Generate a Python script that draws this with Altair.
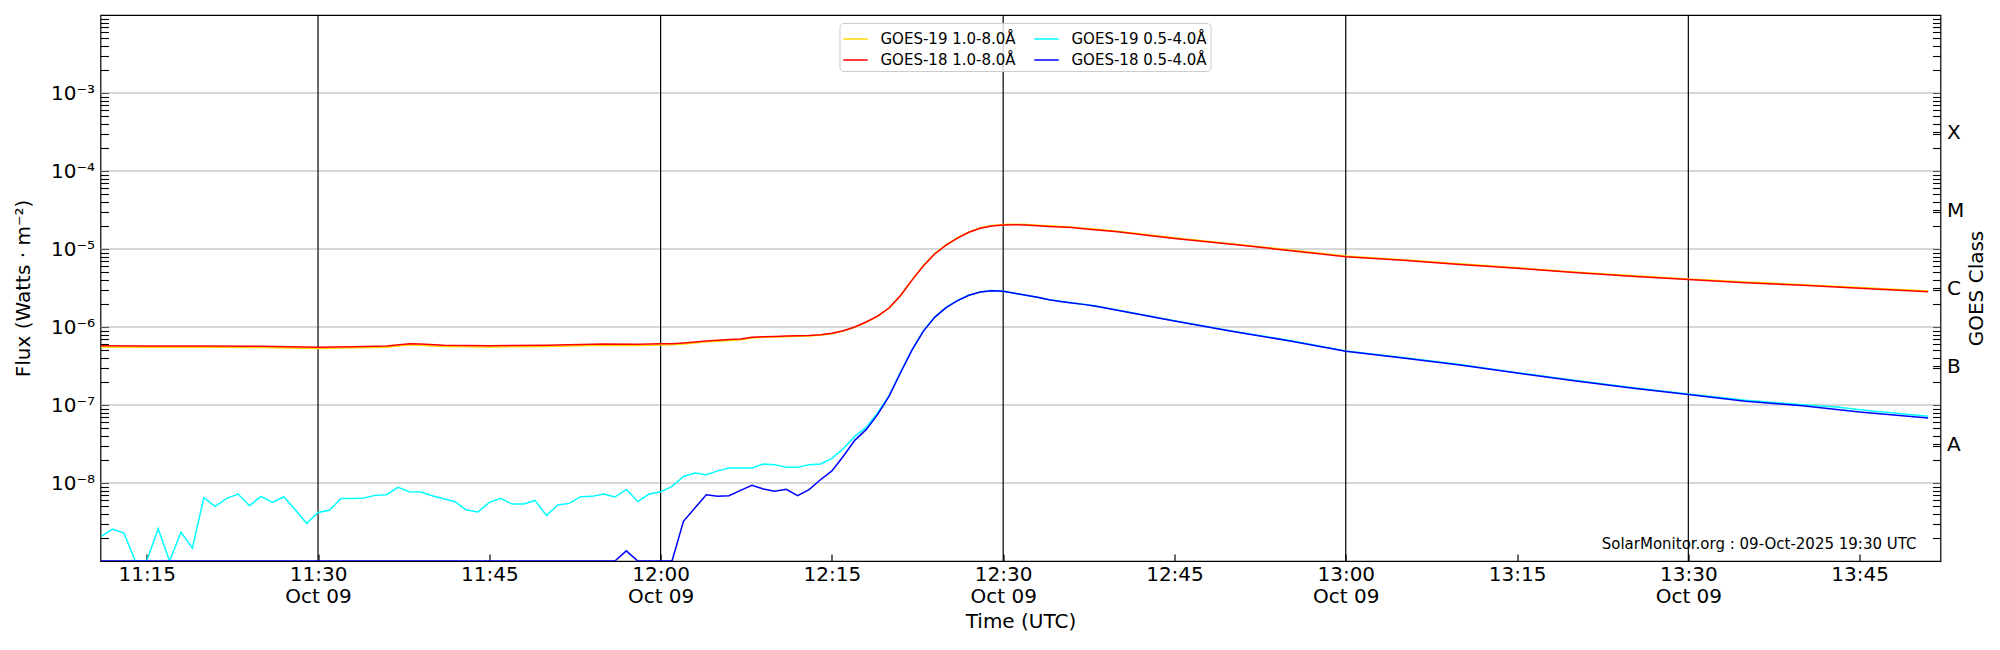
import altair as alt
import pandas as pd

DATE = "2025-10-09"

# ---------------- data ----------------
g18_long_times = ["11:11", "11:15", "11:20", "11:25", "11:30", "11:33", "11:35", "11:36", "11:38", "11:39",
                  "11:41", "11:45", "11:50", "11:55", "11:58", "12:00", "12:01", "12:02", "12:03", "12:04",
                  "12:05", "12:06", "12:07", "12:08", "12:09", "12:10", "12:11", "12:12", "12:13", "12:14",
                  "12:15", "12:16", "12:17", "12:18", "12:19", "12:20", "12:21", "12:22", "12:23", "12:24",
                  "12:25", "12:26", "12:27", "12:28", "12:29", "12:30", "12:31", "12:32", "12:33", "12:34",
                  "12:35", "12:36", "12:37", "12:38", "12:40", "12:45", "12:50", "12:55", "13:00", "13:05",
                  "13:10", "13:15", "13:20", "13:25", "13:30", "13:35", "13:40", "13:45", "13:51"]
g18_long_flux = [5.76e-7, 5.71e-7, 5.71e-7, 5.65e-7, 5.49e-7, 5.60e-7, 5.65e-7, 5.70e-7, 6.11e-7, 6.05e-7,
                 5.82e-7, 5.76e-7, 5.82e-7, 6.05e-7, 6.00e-7, 6.08e-7, 6.10e-7, 6.24e-7, 6.43e-7, 6.62e-7,
                 6.75e-7, 6.89e-7, 7.00e-7, 7.38e-7, 7.52e-7, 7.56e-7, 7.64e-7, 7.74e-7, 7.80e-7, 7.98e-7,
                 8.30e-7, 8.97e-7, 1.00e-6, 1.16e-6, 1.38e-6, 1.75e-6, 2.52e-6, 3.96e-6, 6.05e-6, 8.63e-6,
                 1.12e-5, 1.38e-5, 1.64e-5, 1.84e-5, 1.97e-5, 2.03e-5, 2.05e-5, 2.03e-5, 1.99e-5, 1.95e-5,
                 1.91e-5, 1.88e-5, 1.82e-5, 1.77e-5, 1.66e-5, 1.36e-5, 1.15e-5, 9.60e-6, 7.97e-6, 7.16e-6,
                 6.35e-6, 5.65e-6, 4.98e-6, 4.47e-6, 4.05e-6, 3.70e-6, 3.42e-6, 3.13e-6, 2.84e-6]

g19_long_times = list(g18_long_times)
g19_long_flux = [5.55e-7, 5.50e-7, 5.50e-7, 5.45e-7, 5.30e-7, 5.40e-7, 5.45e-7, 5.50e-7, 5.90e-7, 5.85e-7,
                 5.62e-7, 5.56e-7, 5.62e-7, 5.84e-7, 5.80e-7, 5.88e-7, 5.92e-7, 6.05e-7, 6.25e-7, 6.45e-7,
                 6.58e-7, 6.72e-7, 6.85e-7, 7.22e-7, 7.38e-7, 7.42e-7, 7.50e-7, 7.60e-7, 7.66e-7, 7.85e-7,
                 8.18e-7, 8.85e-7, 9.90e-7, 1.15e-6, 1.37e-6, 1.74e-6, 2.52e-6, 3.98e-6, 6.10e-6, 8.72e-6,
                 1.13e-5, 1.40e-5, 1.66e-5, 1.87e-5, 2.00e-5, 2.06e-5, 2.08e-5, 2.06e-5, 2.02e-5, 1.98e-5,
                 1.94e-5, 1.91e-5, 1.85e-5, 1.80e-5, 1.69e-5, 1.39e-5, 1.17e-5, 9.80e-6, 8.12e-6, 7.30e-6,
                 6.48e-6, 5.76e-6, 5.08e-6, 4.56e-6, 4.13e-6, 3.78e-6, 3.49e-6, 3.20e-6, 2.90e-6]

g19_short_times = ["11:11", "11:12", "11:13", "11:14", "11:15", "11:16", "11:17", "11:18", "11:19", "11:20",
                   "11:21", "11:22", "11:23", "11:24", "11:25", "11:26", "11:27", "11:28", "11:29", "11:30",
                   "11:31", "11:32", "11:33", "11:34", "11:35", "11:36", "11:37", "11:38", "11:39", "11:40",
                   "11:41", "11:42", "11:43", "11:44", "11:45", "11:46", "11:47", "11:48", "11:49", "11:50",
                   "11:51", "11:52", "11:53", "11:54", "11:55", "11:56", "11:57", "11:58", "11:59", "12:00",
                   "12:01", "12:02", "12:03", "12:04", "12:05", "12:06", "12:07", "12:08", "12:09", "12:10",
                   "12:11", "12:12", "12:13", "12:14", "12:15", "12:16", "12:17", "12:18", "12:19", "12:20",
                   "12:21", "12:22", "12:23", "12:24", "12:25", "12:26", "12:27", "12:28", "12:29", "12:30",
                   "12:31", "12:32", "12:33", "12:34", "12:35", "12:36", "12:37", "12:38", "12:40", "12:45",
                   "12:50", "12:55", "13:00", "13:05", "13:10", "13:15", "13:20", "13:25", "13:30", "13:35",
                   "13:40", "13:43", "13:45", "13:51"]
g19_short_flux = [2.07e-9, 2.57e-9, 2.28e-9, 1.0e-9, 1.0e-9, 2.60e-9, 1.0e-9, 2.33e-9, 1.47e-9, 6.48e-9,
                  5.01e-9, 6.35e-9, 7.22e-9, 5.12e-9, 6.74e-9, 5.65e-9, 6.67e-9, 4.55e-9, 3.04e-9, 4.20e-9,
                  4.46e-9, 6.35e-9, 6.35e-9, 6.41e-9, 6.94e-9, 7.08e-9, 8.79e-9, 7.73e-9, 7.66e-9, 6.88e-9,
                  6.29e-9, 5.76e-9, 4.50e-9, 4.25e-9, 5.65e-9, 6.35e-9, 5.37e-9, 5.37e-9, 5.98e-9, 3.85e-9,
                  5.22e-9, 5.48e-9, 6.67e-9, 6.74e-9, 7.22e-9, 6.61e-9, 8.28e-9, 5.81e-9, 7.22e-9, 7.70e-9,
                  9.06e-9, 1.21e-8, 1.34e-8, 1.28e-8, 1.43e-8, 1.56e-8, 1.56e-8, 1.56e-8, 1.75e-8, 1.72e-8,
                  1.59e-8, 1.59e-8, 1.72e-8, 1.75e-8, 2.07e-8, 2.75e-8, 3.96e-8, 5.17e-8, 7.89e-8, 1.31e-7,
                  2.60e-7, 5.05e-7, 8.85e-7, 1.34e-6, 1.78e-6, 2.19e-6, 2.56e-6, 2.82e-6, 2.93e-6, 2.88e-6,
                  2.71e-6, 2.56e-6, 2.41e-6, 2.25e-6, 2.14e-6, 2.04e-6, 1.96e-6, 1.87e-6, 1.65e-6, 1.20e-6,
                  8.90e-7, 6.75e-7, 4.92e-7, 4.05e-7, 3.30e-7, 2.60e-7, 2.08e-7, 1.68e-7, 1.38e-7, 1.15e-7,
                  1.01e-7, 9.40e-8, 8.70e-8, 7.16e-8]

g18_short_times = ["11:11", "11:56", "11:57", "11:58", "12:01", "12:02", "12:03", "12:04", "12:05", "12:06",
                   "12:07", "12:08", "12:09", "12:10", "12:11", "12:12", "12:13", "12:14", "12:15", "12:16",
                   "12:17", "12:18", "12:19", "12:20", "12:21", "12:22", "12:23", "12:24", "12:25", "12:26",
                   "12:27", "12:28", "12:29", "12:30", "12:31", "12:32", "12:33", "12:34", "12:35", "12:36",
                   "12:37", "12:38", "12:40", "12:45", "12:50", "12:55", "13:00", "13:05", "13:10", "13:15",
                   "13:20", "13:25", "13:30", "13:35", "13:40", "13:45", "13:51"]
g18_short_flux = [1.0e-9, 1.0e-9, 1.35e-9, 1.0e-9, 1.0e-9, 3.23e-9, 4.78e-9, 7.08e-9, 6.74e-9, 6.88e-9,
                  8.05e-9, 9.33e-9, 8.38e-9, 7.82e-9, 8.30e-9, 6.88e-9, 8.22e-9, 1.10e-8, 1.43e-8, 2.20e-8,
                  3.52e-8, 4.83e-8, 7.52e-8, 1.29e-7, 2.57e-7, 5.02e-7, 8.80e-7, 1.33e-6, 1.77e-6, 2.18e-6,
                  2.55e-6, 2.81e-6, 2.92e-6, 2.87e-6, 2.70e-6, 2.55e-6, 2.40e-6, 2.24e-6, 2.13e-6, 2.03e-6,
                  1.95e-6, 1.86e-6, 1.64e-6, 1.19e-6, 8.80e-7, 6.68e-7, 4.88e-7, 4.01e-7, 3.26e-7, 2.57e-7,
                  2.05e-7, 1.65e-7, 1.36e-7, 1.12e-7, 9.80e-8, 8.13e-8, 6.81e-8]

# legend order (Vega fills the 2-column legend column by column)
series_names = ["GOES-19 1.0-8.0Å", "GOES-18 1.0-8.0Å", "GOES-19 0.5-4.0Å", "GOES-18 0.5-4.0Å"]
series_colors = ["#ffd700", "#ff0000", "#00ffff", "#0000ff"]

x_domain_times = ["11:10:57", "13:52:05"]
x_tick_times = ["11:15", "11:30", "11:45", "12:00", "12:15", "12:30", "12:45", "13:00", "13:15", "13:30", "13:45"]
x_tick_labels = ["11:15", "11:30", "11:45", "12:00", "12:15", "12:30", "12:45", "13:00", "13:15", "13:30", "13:45"]
x_major_times = ["11:30", "12:00", "12:30", "13:00", "13:30"]
x_major_labels = ["Oct 09", "Oct 09", "Oct 09", "Oct 09", "Oct 09"]

y_domain = [1e-9, 1e-2]
y_decades = [1e-8, 1e-7, 1e-6, 1e-5, 1e-4, 1e-3]
y_decade_labels = ["10⁻⁸", "10⁻⁷", "10⁻⁶", "10⁻⁵", "10⁻⁴", "10⁻³"]
y_minor = [m * 10.0 ** e for e in range(-9, -2) for m in range(2, 10)]
class_positions = [10 ** -7.5, 10 ** -6.5, 10 ** -5.5, 10 ** -4.5, 10 ** -3.5]
class_labels = ["A", "B", "C", "M", "X"]

annotation = "SolarMonitor.org : 09-Oct-2025 19:30 UTC"


def ms(hms):
    if hms.count(":") == 1:
        hms = hms + ":00"
    return int(pd.Timestamp(f"{DATE}T{hms}Z").value // 10 ** 6)


def frame(times, flux, name):
    return pd.DataFrame({"t": [ms(t) for t in times], "flux": flux, "series": name})


def js_str(s):
    return "'" + s.replace("'", "\\'") + "'"


def label_expr_num(values, labels):
    expr = "''"
    for v, lab in zip(values, labels):
        expr = f"(abs(datum.value/{v!r}-1)<1e-6) ? {js_str(lab)} : ({expr})"
    return expr


def label_expr_time(values, labels):
    expr = "''"
    for v, lab in zip(values, labels):
        expr = f"(abs(time(datum.value)-{v})<1000) ? {js_str(lab)} : ({expr})"
    return expr


FONT = "DejaVu Sans"
FS = 20
W, H = 1840, 546

xscale = alt.Scale(type="utc", domain=[ms(t) for t in x_domain_times])
yscale = alt.Scale(type="log", domain=y_domain)
color_scale = alt.Scale(domain=series_names, range=series_colors)

x_axis_time = alt.Axis(
    orient="bottom",
    values=[ms(t) for t in x_tick_times],
    labelExpr=label_expr_time([ms(t) for t in x_tick_times], x_tick_labels),
    offset=-7, tickSize=7, tickColor="black", tickWidth=1.2, domain=False, grid=False,
    labelPadding=3, labelFontSize=FS, labelFont=FONT, labelColor="black",
    labelFlush=False, labelOverlap=False, title=None,
)

x_axis_date = alt.Axis(
    orient="bottom",
    values=[ms(t) for t in x_major_times],
    labelExpr=label_expr_time([ms(t) for t in x_major_times], x_major_labels),
    offset=0, ticks=False, domain=False, grid=False,
    labelPadding=25, labelFontSize=FS, labelFont=FONT, labelColor="black",
    labelFlush=False, labelOverlap=False,
    title="Time (UTC)", titleFontSize=FS, titleFont=FONT, titleFontWeight="normal", titleColor="black",
    titlePadding=5,
)

left_axis = alt.Axis(
    orient="left",
    values=sorted(y_decades + y_minor),
    labelExpr=label_expr_num(y_decades, y_decade_labels),
    offset=-8, tickSize=8, tickColor="black", tickWidth=1.1, domain=False, grid=False,
    labelPadding=6, labelFontSize=FS, labelFont=FONT, labelColor="black",
    labelOverlap=False, labelFlush=False,
    title="Flux (Watts · m⁻²)", titleFontSize=FS, titleFont=FONT, titleFontWeight="normal", titleColor="black",
    titleBaseline="middle", titleX=-85.5, titleY=H / 2,
)

right_axis = alt.Axis(
    orient="right",
    values=sorted(y_decades + y_minor + class_positions),
    labelExpr=label_expr_num(class_positions, class_labels),
    offset=-8, tickSize=8, tickColor="black", tickWidth=1.1, domain=False, grid=False,
    labelPadding=6, labelFontSize=FS, labelFont=FONT, labelColor="black",
    labelOverlap=False, labelFlush=False,
    title="GOES Class", titleFontSize=FS, titleFont=FONT, titleFontWeight="normal", titleColor="black",
    titleAngle=270, titleBaseline="middle", titleX=43.5, titleY=H / 2,
)

legend = alt.Legend(
    orient="none", legendX=739, legendY=8, columns=2, title=None,
    symbolType="stroke", symbolSize=600, symbolStrokeWidth=1.5,
    labelFont=FONT, labelFontSize=15, labelColor="black", labelLimit=400, labelOffset=12,
    columnPadding=14, rowPadding=0, padding=3,
    fillColor="rgba(255,255,255,0.8)", strokeColor="#cccccc", cornerRadius=4,
)


def line_layer(df, x_ax, y_ax):
    return alt.Chart(df).mark_line(strokeWidth=1.5, clip=True).encode(
        x=alt.X("t:T", scale=xscale, axis=x_ax),
        y=alt.Y("flux:Q", scale=yscale, axis=y_ax),
        color=alt.Color("series:N", scale=color_scale, legend=legend),
    )


hgrid = alt.Chart(pd.DataFrame({"gy": y_decades})).mark_rule(color="#b0b0b0", strokeWidth=1.2).encode(
    y=alt.Y("gy:Q", scale=yscale, axis=None)
)
vlines = alt.Chart(pd.DataFrame({"vt": [ms(t) for t in x_major_times]})).mark_rule(
    color="black", strokeWidth=1.2
).encode(x=alt.X("vt:T", scale=xscale, axis=x_axis_date))

l_g19_long = line_layer(frame(g19_long_times, g19_long_flux, "GOES-19 1.0-8.0Å"), x_axis_time, left_axis)
l_g18_long = line_layer(frame(g18_long_times, g18_long_flux, "GOES-18 1.0-8.0Å"), None, None)
l_g19_short = line_layer(frame(g19_short_times, g19_short_flux, "GOES-19 0.5-4.0Å"), None, None)
l_g18_short = line_layer(frame(g18_short_times, g18_short_flux, "GOES-18 0.5-4.0Å"), None, right_axis)

note = alt.Chart(pd.DataFrame({"label": [annotation]})).mark_text(
    align="right", baseline="alphabetic", font=FONT, fontSize=15, color="black"
).encode(x=alt.value(W - 24), y=alt.value(534), text="label:N")

chart = (
    alt.layer(hgrid, vlines, l_g19_long, l_g18_long, l_g19_short, l_g18_short, note)
    .resolve_scale(y="shared", x="shared", color="shared")
    .resolve_axis(y="independent", x="independent")
    .properties(
        width=W, height=H,
        padding={"left": 92.5, "top": 7, "right": 51, "bottom": 80},
        autosize=alt.AutoSizeParams(type="none"),
        background="white",
    )
    .configure(font=FONT)
    .configure_view(stroke="black", strokeWidth=1.2)
)

chart.save("out.html", embed_options={"renderer": "svg", "actions": False})
